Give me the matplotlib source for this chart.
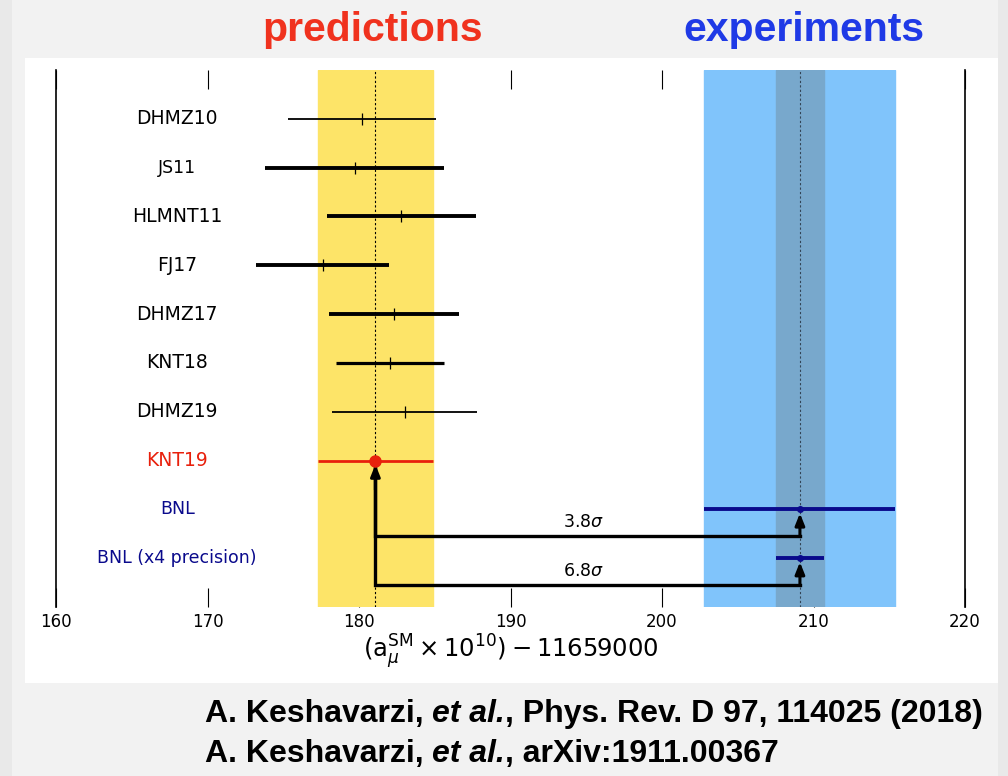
import numpy as np
import matplotlib.pyplot as plt
from matplotlib.patches import Rectangle

# ---------------------------------------- data --------------------------------------------
labels = ["DHMZ10", "JS11", "HLMNT11", "FJ17", "DHMZ17", "KNT18", "DHMZ19",
          "KNT19", "BNL", "BNL (x4 precision)"]
values = [180.2, 179.7, 182.8, 177.6, 182.3, 182.05, 183.0, 181.08, 209.1, 209.1]
errors = [4.9, 5.9, 4.9, 4.4, 4.3, 3.55, 4.8, 3.78, 6.3, 1.58]
widths = [1.3, 2.8, 2.8, 2.8, 2.8, 2.3, 1.3, 2.0, 2.8, 2.8]
colors = ["black"] * 7 + ["#e8200c", "#0a0a8c", "#0a0a8c"]
label_sizes = [13.5, 12.5, 13.5, 13.5, 13.5, 13.5, 13.5, 13.5, 12.5, 12.5]

sm_value, sm_error = 181.08, 3.78   # KNT19 band
exp_value, exp_error = 209.1, 6.3   # BNL band
tension = ["3.8$\\sigma$", "6.8$\\sigma$"]

refs = [["A. Keshavarzi, ", "et al.", ", Phys. Rev. D 97, 114025 (2018)"],
        ["A. Keshavarzi, ", "et al.", ", arXiv:1911.00367"]]

rows = np.arange(len(labels))

# ---------------------------------------- figure ------------------------------------------
fig = plt.figure(figsize=(10.08, 7.76), dpi=100, facecolor="#e9e9e9")
fig.patches.append(Rectangle((0.012, 0.0), 0.978, 1.0, transform=fig.transFigure,
                             facecolor="#f2f2f2", edgecolor="none", zorder=-2))
fig.patches.append(Rectangle((0.025, 0.12), 0.965, 0.805, transform=fig.transFigure,
                             facecolor="white", edgecolor="none", zorder=-1))

ax = fig.add_axes([0.0556, 0.2178, 0.9018, 0.692])
ax.set_facecolor("none")
ax.set_axisbelow(True)

# bands: prediction (yellow) and experiment (blue, with x4 precision in darker shade)
ax.axvspan(sm_value - sm_error, sm_value + sm_error, color="#fde468", zorder=1)
ax.axvspan(exp_value - exp_error, exp_value + exp_error, color="#80c4fb", zorder=1)
ax.axvspan(exp_value - exp_error / 4, exp_value + exp_error / 4, color="#78a8cc", zorder=1)
ax.axvline(sm_value, color="black", ls=(0, (2, 2)), lw=0.8, zorder=2)
ax.axvline(exp_value, color="#334455", ls=(0, (2, 2)), lw=0.8, zorder=2)

# error bars
for i in rows:
    ax.plot([values[i] - errors[i], values[i] + errors[i]], [i, i],
            color=colors[i], lw=widths[i], solid_capstyle="butt", zorder=3)
    if i < 7:
        ax.plot(values[i], i, marker="|", ms=8, mew=0.9, color=colors[i], zorder=3)
    ax.text(168, i, labels[i], ha="center", va="center",
            fontsize=label_sizes[i], color=colors[i])

ax.plot(values[7], 7, "o", color="#e8200c", ms=8, zorder=5)
ax.plot(values[8], 8, "o", color="#0a0a8c", ms=4, zorder=5)
ax.plot(values[9], 9, "o", color="#0a0a8c", ms=4, zorder=5)

# tension arrows from KNT19 to BNL rows
for k, target in enumerate([8, 9]):
    ylow = target + 0.55
    ax.plot([sm_value, sm_value, exp_value], [7.1, ylow, ylow],
            color="black", lw=2.4, zorder=4, solid_joinstyle="miter")
    ax.annotate("", xy=(exp_value, target + 0.08), xytext=(exp_value, ylow),
                arrowprops=dict(arrowstyle="-|>,head_length=0.5,head_width=0.2",
                                color="black", lw=2.2, mutation_scale=14,
                                shrinkA=0, shrinkB=0), zorder=4)
    ax.text(194.8, ylow - 0.1, tension[k], ha="center", va="bottom", fontsize=12.5)
ax.annotate("", xy=(sm_value, 7.08), xytext=(sm_value, 7.6),
            arrowprops=dict(arrowstyle="-|>,head_length=0.5,head_width=0.2",
                            color="black", lw=2.2, mutation_scale=14,
                            shrinkA=0, shrinkB=0), zorder=4)

# axes styling
ax.set_xlim(160, 220)
ax.set_ylim(10.0, -1.0)
ax.set_yticks([])
for side in ["top", "bottom"]:
    ax.spines[side].set_visible(False)
for side in ["left", "right"]:
    ax.spines[side].set_linewidth(1.2)
ax.set_xticks(np.arange(160, 221, 10))
ax.tick_params(axis="x", direction="in", length=14, width=0.8, top=True,
               labelsize=12, pad=4)
ax.set_xlabel(r"$(\mathrm{a}_\mu^{\rm SM}\times 10^{10}) - 11659000$", fontsize=17.5,
              labelpad=1)

# headings
fig.text(0.370, 0.961, "predictions", color="#f0321e", fontsize=29.5, fontweight="bold",
         family="Liberation Sans", ha="center", va="center")
fig.text(0.797, 0.961, "experiments", color="#1f3ae6", fontsize=29.5, fontweight="bold",
         family="Liberation Sans", ha="center", va="center")

# references, pieces laid out one after another
renderer = fig.canvas.get_renderer()
for line, ypos in zip(refs, [0.0696, 0.018]):
    x = 0.203
    for j, piece in enumerate(line):
        t = fig.text(x, ypos, piece, fontsize=23, fontweight="bold",
                     style="italic" if j == 1 else "normal",
                     family="Liberation Sans", ha="left", va="baseline")
        bb = t.get_window_extent(renderer).transformed(fig.transFigure.inverted())
        x = bb.x1

fig.savefig("out.png", dpi=100, facecolor=fig.get_facecolor())
